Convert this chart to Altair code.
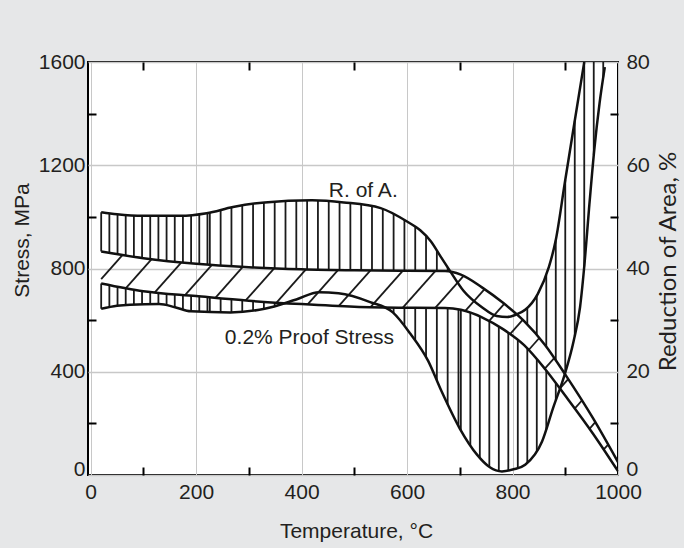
import numpy as np
import pandas as pd
import altair as alt

# ---------------- values ----------------
# Reduction of Area band (right axis, %)
ra_upper_temp = [20, 50, 100, 170, 220, 270, 330, 420, 480, 550, 600, 625, 645, 665, 681,
                 707, 742, 770, 790, 805, 824, 848, 869, 882, 899, 917, 936]
ra_upper_pct = [50.9, 50.5, 50.2, 50.2, 50.7, 51.9, 52.8, 53.2, 52.8, 51.7, 49.1, 47.4, 45.3,
                42.1, 39.6, 35.7, 32.5, 30.8, 30.6, 31.0, 32.0, 35.1, 40.3, 45.5, 56.5, 68.0, 80.0]

ra_lower_temp = [20, 50, 75, 130, 160, 190, 265, 330, 390, 433, 470, 530, 573, 606, 640, 665,
                 700, 733, 757, 780, 802, 824, 856, 877, 899, 916, 928, 937, 945, 955, 965, 975]
ra_lower_pct = [32.2, 32.8, 33.0, 33.1, 32.5, 31.7, 31.5, 32.2, 34.0, 35.4, 35.2, 33.5, 31.5,
                27.4, 22.1, 16.3, 9.0, 3.9, 1.5, 0.7, 1.1, 2.0, 6.5, 13.0, 19.5, 26.0, 32.5,
                41.5, 51.5, 63.0, 72.0, 79.0]

# 0.2% proof stress band (left axis, MPa)
proof_temp = [20, 100, 200, 300, 400, 500, 600, 672, 702, 742, 782, 822, 862, 902, 952, 1000]
proof_upper = [866, 840, 818, 805, 797, 793, 791, 790, 776, 727, 667, 596, 503, 383, 222, 50]
proof_lower = [742, 712, 693, 675, 662, 652, 648, 647, 640, 611, 565, 503, 410, 302, 162, 15]

stress_ticks = [0, 400, 800, 1200, 1600]
stress_minor = [200, 600, 1000, 1400]
temp_ticks = [0, 200, 400, 600, 800, 1000]
temp_minor = [100, 300, 500, 700, 900]

labels_text = ["R. of A.", "0.2% Proof Stress"]
labels_temp = [517, 415]
labels_stress = [1100, 531]

MPA_PER_PCT = 20  # 80 % on the right axis corresponds to 1600 MPa on the left


# ---------------- curve evaluation (same monotone curve Vega draws) ----------------
def monotone(xs, ys, xq):
    xs = np.asarray(xs, float)
    ys = np.asarray(ys, float)
    n = len(xs)
    h = np.diff(xs)
    s = np.diff(ys) / h
    m = np.zeros(n)
    sg = lambda v: -1.0 if v < 0 else 1.0
    for i in range(1, n - 1):
        h0, h1, s0, s1 = h[i - 1], h[i], s[i - 1], s[i]
        p = (s0 * h1 + s1 * h0) / (h0 + h1)
        m[i] = (sg(s0) + sg(s1)) * min(abs(s0), abs(s1), 0.5 * abs(p))
    m[0] = (3 * s[0] - m[1]) / 2
    m[-1] = (3 * s[-1] - m[-2]) / 2
    xq = np.asarray(xq, float)
    idx = np.clip(np.searchsorted(xs, xq, side="right") - 1, 0, n - 2)
    hh = h[idx]
    t = (xq - xs[idx]) / hh
    h00 = 2 * t**3 - 3 * t**2 + 1
    h10 = t**3 - 2 * t**2 + t
    h01 = -2 * t**3 + 3 * t**2
    h11 = t**3 - t**2
    return h00 * ys[idx] + h10 * hh * m[idx] + h01 * ys[idx + 1] + h11 * hh * m[idx + 1]


ra_up_mpa = [v * MPA_PER_PCT for v in ra_upper_pct]
ra_lo_mpa = [v * MPA_PER_PCT for v in ra_lower_pct]

# ---------------- curves ----------------
curves = pd.concat([
    pd.DataFrame({"t": ra_upper_temp, "s": ra_up_mpa, "k": "ra_up"}),
    pd.DataFrame({"t": ra_lower_temp, "s": ra_lo_mpa, "k": "ra_lo"}),
    pd.DataFrame({"t": proof_temp, "s": proof_upper, "k": "p_up"}),
    pd.DataFrame({"t": proof_temp, "s": proof_lower, "k": "p_lo"}),
])

# ---------------- vertical hatching of the R. of A. band (outside the proof band) ----------------
hatch_t = np.concatenate([np.arange(20, 225, 15.5), np.arange(226, 700, 20.5), np.arange(702, 976, 18)])
hatch_t = hatch_t[hatch_t <= ra_lower_temp[-1]]
lo = monotone(ra_lower_temp, ra_lo_mpa, hatch_t)
up = np.where(hatch_t <= ra_upper_temp[-1], monotone(ra_upper_temp, ra_up_mpa, hatch_t), 1600)
up = np.minimum(up, 1600)
p1 = monotone(proof_temp, proof_upper, hatch_t)
p2 = monotone(proof_temp, proof_lower, hatch_t)
vrows = []
for t, l, u, a, b in zip(hatch_t, lo, up, p1, p2):
    if l < min(u, b):
        vrows.append({"t": t, "s1": l, "s2": min(u, b)})
    if u > max(l, a):
        vrows.append({"t": t, "s1": max(l, a), "s2": u})
vhatch = pd.DataFrame(vrows)

# ---------------- diagonal hatching of the proof-stress band ----------------
fine = np.arange(20, 1000.001, 0.25)
p1f = monotone(proof_temp, proof_upper, fine)
p2f = monotone(proof_temp, proof_lower, fine)
slope = 2.3
drows = []
for c in np.arange(-372, 1000, 62):
    f = slope * (fine - c)
    idx = np.where((f >= p2f) & (f <= p1f))[0]
    if len(idx) < 2:
        continue
    for run in np.split(idx, np.where(np.diff(idx) > 1)[0] + 1):
        if len(run) < 2:
            continue
        a, b = run[0], run[-1]
        drows.append({"t1": fine[a], "s1": f[a], "t2": fine[b], "s2": f[b]})
dhatch = pd.DataFrame(drows)

labels = pd.DataFrame({"txt": labels_text, "t": labels_temp, "s": labels_stress})

# ---------------- chart ----------------
FONT = "Liberation Sans"
TXT = "#231f20"
XS = alt.Scale(domain=[-5, 1000], nice=False, zero=False)
YS = alt.Scale(domain=[0, 1600], nice=False, zero=False)
ZERO_UP = {"condition": {"test": "datum.value == 0", "value": "alphabetic"}, "value": "middle"}


def tick_axis(orient, vals):
    return alt.Axis(orient=orient, values=vals, offset=-8, tickSize=8, tickWidth=2,
                    tickColor="black", labels=False, domain=False, grid=False, zindex=1)


x_main = alt.Axis(orient="bottom", values=temp_ticks, format="d", ticks=False, domain=False,
                  grid=True, gridColor="#c8c8c8", gridWidth=1, labelFont=FONT, labelFontSize=21,
                  labelColor=TXT, labelPadding=6, labelFlush=False,
                  titleFont=FONT, titleFontSize=21, titleFontWeight="normal", titleColor=TXT,
                  titleX=268, titleY=62, titleBaseline="alphabetic", titleAlign="center")
y_main = alt.Axis(orient="left", values=stress_ticks, format="d", ticks=False, domain=False,
                  grid=True, gridColor="#c8c8c8", gridWidth=1.5, labelFont=FONT, labelFontSize=21,
                  labelColor=TXT, labelPadding=3, labelFlush=False, labelBaseline=ZERO_UP,
                  titleFont=FONT, titleFontSize=21, titleFontWeight="normal", titleColor=TXT,
                  titleAngle=270, titleX=-66, titleY=178, titleBaseline="middle", titleAlign="center")
y_right = alt.Axis(orient="right", values=stress_ticks, labelExpr="datum.value / 20", ticks=False,
                   domain=False, grid=False, labelFont="Lato", labelFontSize=20, labelColor=TXT,
                   labelPadding=8, labelFlush=False, labelBaseline=ZERO_UP,
                   titleFont="Lato", titleFontSize=24, titleFontWeight="normal", titleColor=TXT,
                   titleAngle=270, titleX=50, titleY=199, titleBaseline="middle", titleAlign="center")

vh = alt.Chart(vhatch).mark_rule(color="#1a1a1a", strokeWidth=1.8).encode(
    x=alt.X("t:Q", scale=XS, axis=x_main, title="Temperature, °C"),
    y=alt.Y("s1:Q", scale=YS, axis=y_main, title="Stress, MPa"),
    y2="s2:Q",
)

dh = alt.Chart(dhatch).mark_rule(color="#1a1a1a", strokeWidth=1.8).encode(
    x=alt.X("t1:Q", scale=XS, axis=tick_axis("bottom", temp_minor), title=None),
    y=alt.Y("s1:Q", scale=YS, axis=tick_axis("left", stress_minor), title=None),
    x2="t2:Q",
    y2="s2:Q",
)

ln = alt.Chart(curves).mark_line(color="#111111", strokeWidth=2.5, interpolate="monotone",
                                 clip=True).encode(
    x=alt.X("t:Q", scale=XS, axis=tick_axis("top", temp_minor), title=None),
    y=alt.Y("s:Q", scale=YS, axis=y_right, title="Reduction of Area, %"),
    detail="k:N",
)

tx = alt.Chart(labels).mark_text(font=FONT, fontSize=21, color=TXT, align="center",
                                 baseline="middle").encode(
    x=alt.X("t:Q", scale=XS, axis=None),
    y=alt.Y("s:Q", scale=YS, axis=tick_axis("right", stress_minor), title=None),
    text="txt:N",
)

chart = alt.layer(vh, dh, ln, tx).resolve_axis(x="independent", y="independent").properties(
    width=530, height=413,
    padding={"left": 88, "top": 62, "right": 66, "bottom": 73},
    autosize=alt.AutoSizeParams(type="none"),
    background="#e6e7e8",
).configure_view(fill="white", stroke="black", strokeWidth=2)

chart.save("out.html", embed_options={"renderer": "svg", "actions": False})
